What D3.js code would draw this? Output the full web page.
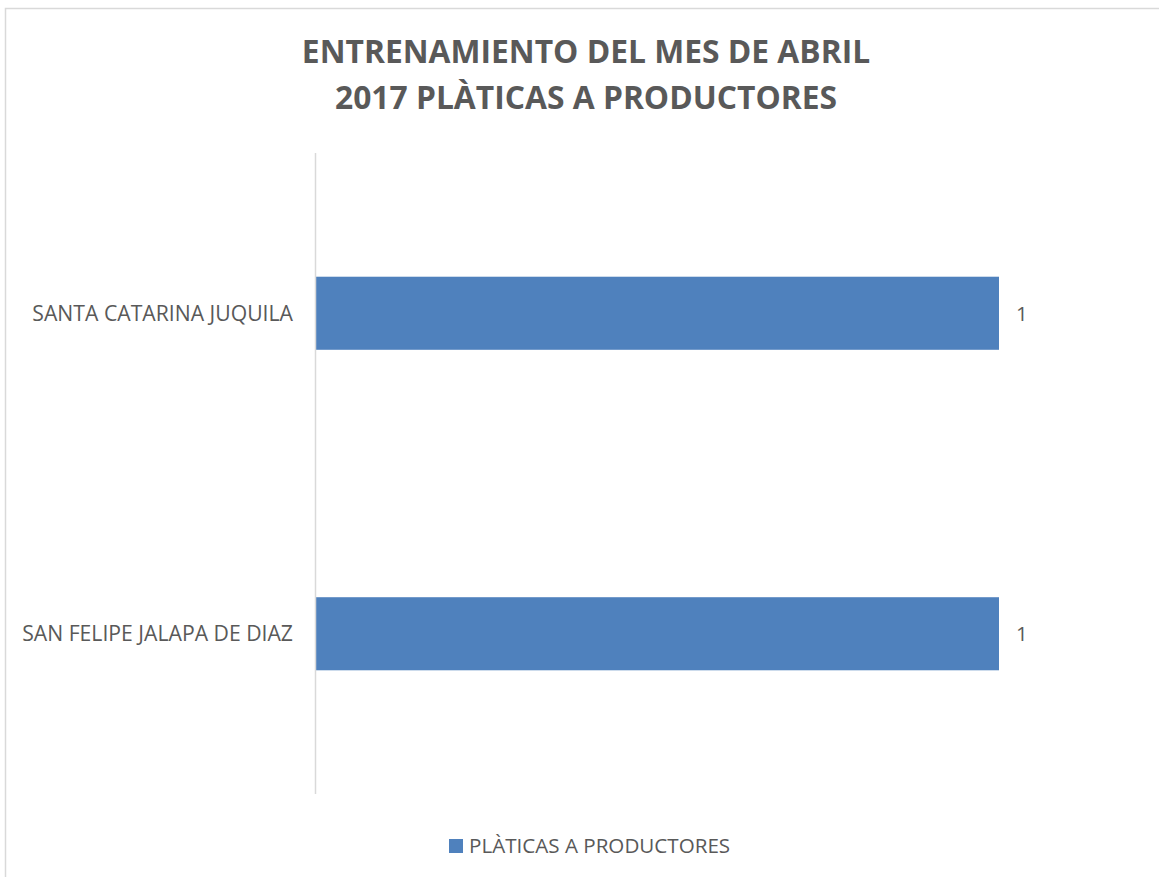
<!DOCTYPE html>
<html>
<head>
<meta charset="utf-8">
<script src="https://cdn.jsdelivr.net/npm/d3@7"></script>
<style>
  body { margin: 0; background: #fff; }
  text { font-family: "Open Sans", sans-serif; fill: #595959; }
</style>
</head>
<body>
<div class="chart"></div>
<script>
// data
const categories = ['SANTA CATARINA JUQUILA', 'SAN FELIPE JALAPA DE DIAZ'];
const values = [1, 1];
const seriesName = 'PLÀTICAS A PRODUCTORES';
const titleLines = ['ENTRENAMIENTO DEL MES DE ABRIL', '2017 PLÀTICAS A PRODUCTORES'];

const W = 1159, H = 877;
const margin = {top: 153, left: 316, bottom: 83, right: 160};
const width = W - margin.left - margin.right;
const height = H - margin.top - margin.bottom;

const svg = d3.select('.chart').append('svg')
  .attr('width', W)
  .attr('height', H);

// chart border
svg.append('rect')
  .attr('x', 5.5).attr('y', 8.5)
  .attr('width', W + 10).attr('height', H + 10)
  .attr('fill', 'none')
  .attr('stroke', '#d9d9d9')
  .attr('stroke-width', 1.5);

// title
svg.append('text')
  .attr('text-anchor', 'middle')
  .attr('font-weight', 'bold')
  .attr('font-size', 31.8)
  .selectAll('tspan')
  .data(titleLines)
  .enter()
  .append('tspan')
  .attr('x', 586)
  .attr('y', (d, i) => 63 + i * 46)
  .text(d => d);

const g = svg.append('g')
  .attr('transform', `translate(${margin.left},${margin.top})`);

// scales
const xScale = d3.scaleLinear()
  .domain([0, 1])
  .range([0, 683]);

const yScale = d3.scaleBand()
  .domain(categories)
  .range([0, height])
  .paddingInner(0.772)
  .paddingOuter(0.386);

// bars
g.selectAll('.bar')
  .data(categories)
  .enter()
  .append('rect')
  .attr('class', 'bar')
  .attr('x', 0)
  .attr('y', d => yScale(d))
  .attr('width', (d, i) => xScale(values[i]))
  .attr('height', yScale.bandwidth())
  .attr('fill', '#4f81bd');

// value labels
g.selectAll('.val')
  .data(categories)
  .enter()
  .append('text')
  .attr('x', (d, i) => xScale(values[i]) + 17)
  .attr('y', d => yScale(d) + yScale.bandwidth() / 2)
  .attr('dy', '0.36em')
  .attr('font-size', 20.5)
  .text((d, i) => values[i]);

// y axis
const yAxis = d3.axisLeft(yScale).tickSize(0).tickPadding(23);
const ax = g.append('g')
  .attr('class', 'axis y-axis')
  .call(yAxis);
ax.select('.domain')
  .attr('stroke', '#d9d9d9')
  .attr('stroke-width', 1.5)
  .attr('d', `M-0.5,0V${height}`);
ax.selectAll('text')
  .attr('font-size', 21.2)
  .attr('dy', '0.36em')
  .attr('fill', '#595959')
  .style('font-family', '"Open Sans", sans-serif');

// legend
const legend = svg.append('g').attr('class', 'legend');
legend.append('rect')
  .attr('x', 449).attr('y', 839)
  .attr('width', 14).attr('height', 14)
  .attr('fill', '#4f81bd');
legend.append('text')
  .attr('x', 469).attr('y', 853)
  .attr('font-size', 20.6)
  .text(seriesName);
</script>
</body>
</html>
